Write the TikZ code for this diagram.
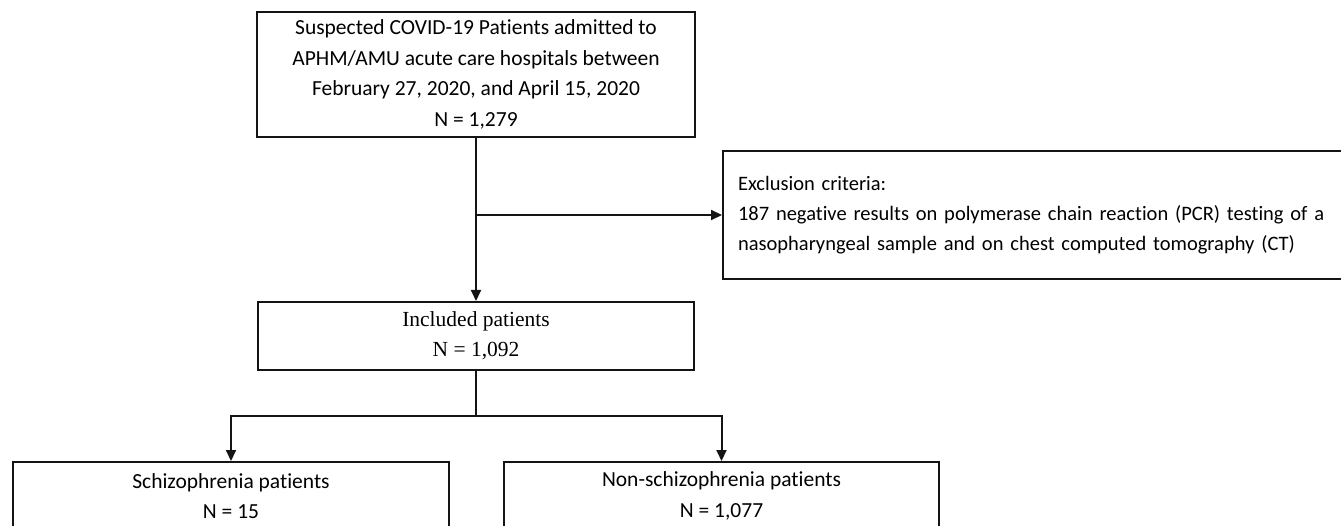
\documentclass[tikz,border=0pt]{standalone}
\usepackage{fontspec}
\setmainfont{Carlito}[Ligatures=NoCommon]
\newfontfamily\timesfont{Liberation Serif}
\usetikzlibrary{arrows.meta,positioning,calc}
\definecolor{Ink}{RGB}{20,20,20}
\tikzset{
  fbox/.style={rectangle,draw=Ink,line width=2pt,fill=white,align=center,
               font=\fontsize{21.5}{30.5}\selectfont,inner sep=0pt},
  fboxserif/.style={fbox,font=\timesfont\fontsize{21.5}{30}\selectfont},
  fedge/.style={-{Triangle[length=11pt,width=10pt]},Ink,line width=2pt},
  fline/.style={Ink,line width=2pt},
}

\begin{document}
\begin{tikzpicture}[x=1pt,y=-1pt]
  \clip (0,0) rectangle (1341,526);
  \fill[white] (0,0) rectangle (1341,526);
  % boxes
  \node[fbox,minimum width=438pt,minimum height=125pt] (suspected) at (476,74.5)
    {Suspected COVID-19 Patients admitted to\\APHM/AMU acute care hospitals between\\February 27, 2020, and April 15, 2020\\N = 1,279};
  \node[fbox,anchor=west,align=left,text width=700pt,inner xsep=15pt,
        minimum height=128pt,font=\fontsize{20.5}{30}\selectfont] (exclusion) at (722,215)
    {Exclusion criteria:\\187 negative results on polymerase chain reaction (PCR) testing of a\\nasopharyngeal sample and on chest computed tomography (CT)};
  \node[fboxserif,minimum width=436pt,minimum height=68pt] (included) at (476,336)
    {Included patients\\N = 1,092};
  \node[fbox,minimum width=436pt,minimum height=68pt] (schizo) at (231,496)
    {Schizophrenia patients\\N = 15};
  \node[fbox,minimum width=435pt,minimum height=68pt] (nonschizo) at (721.5,496)
    {Non-schizophrenia patients\\N = 1,077};
  % connectors
  \coordinate (split) at (476,215);
  \coordinate (branch) at (476,416);
  \draw[fedge] (suspected.south) -- (included.north);
  \draw[fedge] (split) -- (exclusion.west);
  \draw[fline] (included.south) -- (branch);
  \draw[fedge] (branch) -| (schizo.north);
  \draw[fedge] (branch) -| (nonschizo.north);
\end{tikzpicture}
\end{document}
